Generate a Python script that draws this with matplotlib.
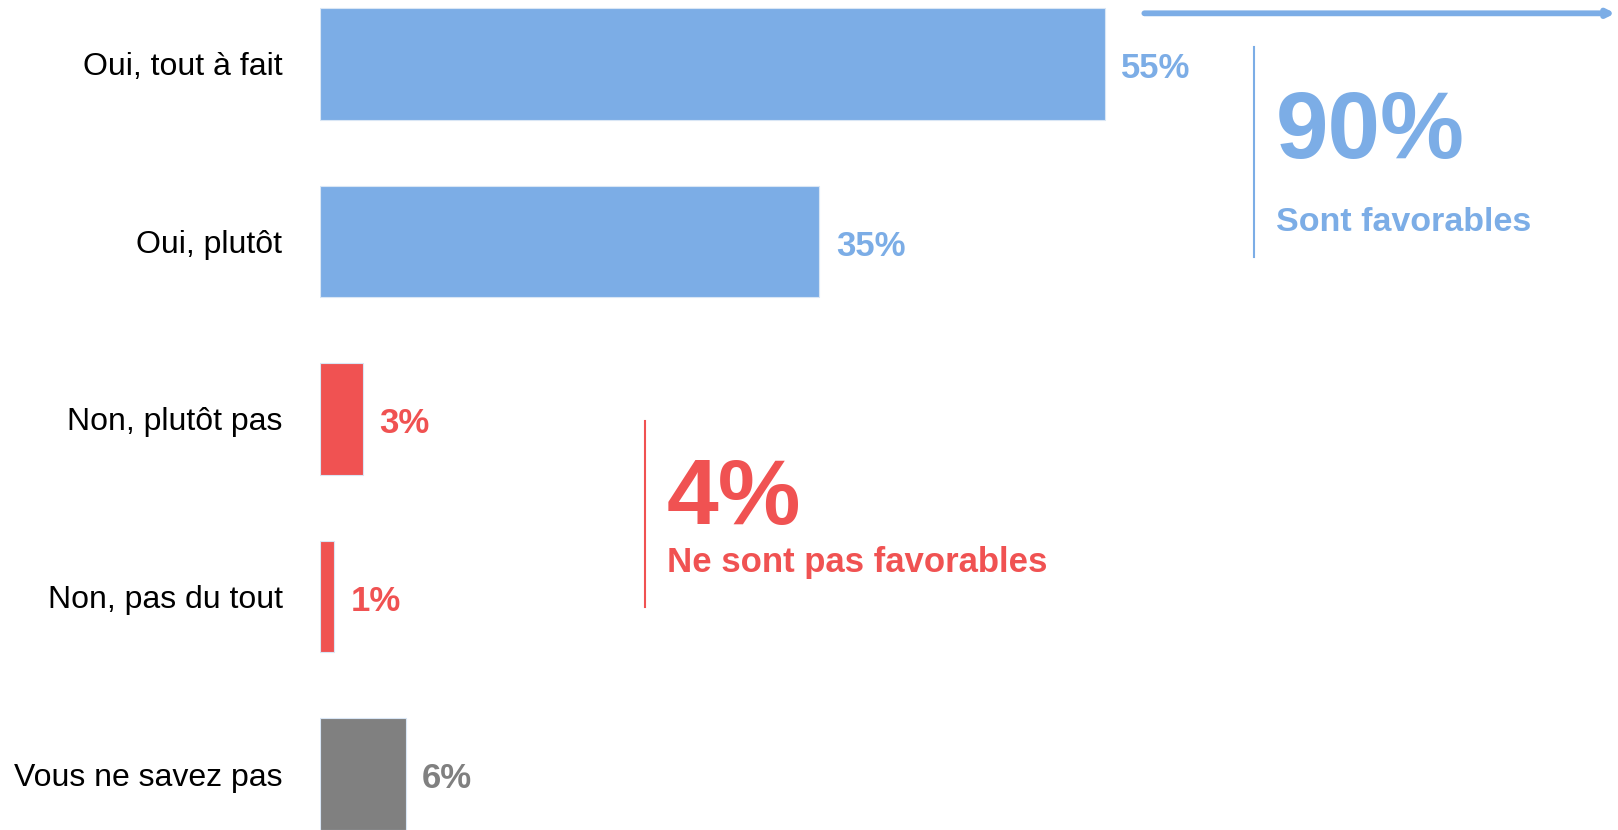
import matplotlib

matplotlib.use("Agg")

import matplotlib.pyplot as plt

plt.rcParams["font.family"] = ["Liberation Sans", "DejaVu Sans"]

categories = ["Oui, tout à fait", "Oui, plutôt", "Non, plutôt pas", "Non, pas du tout", "Vous ne savez pas"]
values = [55, 35, 3, 1, 6]
groups = ["fav", "fav", "unfav", "unfav", "nsp"]

colors = {"fav": "#7cade6", "unfav": "#f05252", "nsp": "#808080"}

fav_total = sum(v for v, g in zip(values, groups) if g == "fav")
unfav_total = sum(v for v, g in zip(values, groups) if g == "unfav")

fig = plt.figure(figsize=(16.18, 8.30), dpi=100)
ax = fig.add_axes([320 / 1618, 0, 1 - 320 / 1618, 1])

y = list(range(len(categories)))
bar_colors = [colors[g] for g in groups]
ax.barh(y, values, height=0.63, color=bar_colors, edgecolor="#d9e6f5", linewidth=0.8)

ax.set_xlim(0, 91.0)
ax.set_ylim(4.315, -0.36)

ax.set_yticks(y)
ax.set_yticklabels(categories, fontsize=23, color="black")
ax.tick_params(axis="y", length=0, pad=27)
ax.set_xticks([])
for spine in ax.spines.values():
    spine.set_visible(False)

for yi, v, c in zip(y, values, bar_colors):
    ax.annotate(f"{v}%", (v, yi), xytext=(12, -3.5), textcoords="offset points",
                ha="left", va="center", fontsize=25, fontweight="bold", color=c)

# favourable summary
blue = colors["fav"]
ax.plot([65.5, 65.5], [-0.096, 1.09], color=blue, linewidth=1.5)
ax.text(67.0, 0.53, f"{fav_total}%", fontsize=68, fontweight="bold", color=blue,
        ha="left", va="baseline")
ax.text(67.0, 0.94, "Sont favorables", fontsize=24.5, fontweight="bold", color=blue,
        ha="left", va="baseline")
ax.annotate("", xy=(91.0, -0.285), xytext=(57.6, -0.285),
            arrowprops=dict(arrowstyle="-|>", color=blue, linewidth=4.2, mutation_scale=10),
            annotation_clip=False)

# unfavourable summary
red = colors["unfav"]
ax.plot([22.8, 22.8], [2.01, 3.06], color=red, linewidth=1.5)
ax.text(24.3, 2.59, f"{unfav_total}%", fontsize=67, fontweight="bold", color=red,
        ha="left", va="baseline")
ax.text(24.3, 2.86, "Ne sont pas favorables", fontsize=25, fontweight="bold", color=red,
        ha="left", va="baseline")

fig.savefig("out.png", dpi=100, facecolor="white")
plt.close(fig)
